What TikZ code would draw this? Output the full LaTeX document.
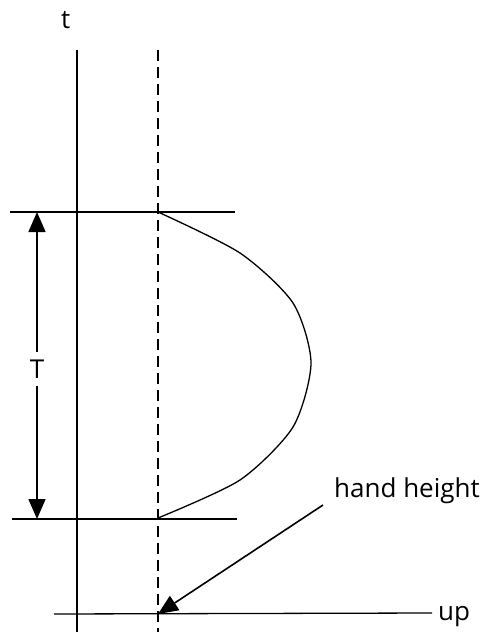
\documentclass[tikz,border=0pt]{standalone}
\usepackage{fontspec}
\setmainfont{Open Sans}
\usetikzlibrary{arrows.meta}
\begin{document}
\begin{tikzpicture}[x=1pt,y=-1pt,
  ln/.style={line width=1.3pt},
  arr/.style={line width=1.6pt,-{Triangle[length=20pt,width=17pt]}},
  lbl/.style={font=\fontsize{26}{28}\selectfont,inner sep=0pt}]
\useasboundingbox (0,0) rectangle (487,632);
% axes
\coordinate (axtop) at (77,50);
\coordinate (axbot) at (77,632);
\draw[ln] (axtop) -- (axbot);
\coordinate (dtop) at (158,50);
\coordinate (dbot) at (158,632);
\draw[ln,dash pattern=on 11pt off 6pt] (dtop) -- (dbot);
\node[lbl,anchor=base west] (t) at (61,28) {t};
% horizontal lines
\coordinate (h1a) at (10,212); \coordinate (h1b) at (235,212);
\coordinate (h2a) at (12,519); \coordinate (h2b) at (237,519);
\draw[ln] (h1a) -- (h1b);
\draw[ln] (h2a) -- (h2b);
\coordinate (upa) at (54,614); \coordinate (upb) at (432,613);
\draw[ln] (upa) -- (upb);
\node[lbl,anchor=base west] (up) at (438,620) {up};
% period arrow
\node[lbl,inner ysep=8pt] (T) at (37,369) {T};
\coordinate (Ttop) at (37,212);
\coordinate (Tbot) at (37,519);
\draw[arr] (T.north) -- (Ttop);
\draw[arr] (T.south) -- (Tbot);
% curve
\draw[ln] plot[smooth,tension=0.45] coordinates {(158,212) (240,253) (293,303) (311,363) (293,427) (240,480) (158,518)};
% hand height
\node[lbl,anchor=base west] (hh) at (334,497) {hand height};
\coordinate (hs) at (323,505);
\coordinate (hp) at (158,614);
\draw[arr] (hs) -- (hp);
\end{tikzpicture}
\end{document}
